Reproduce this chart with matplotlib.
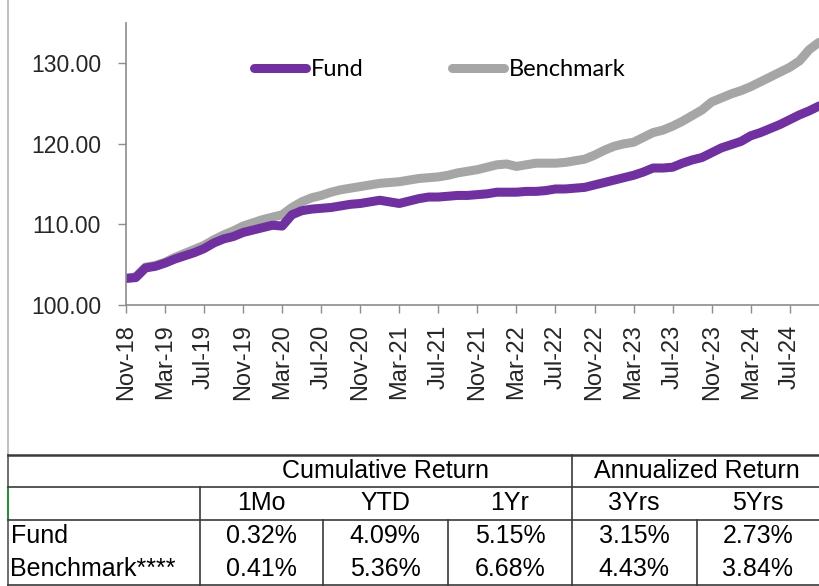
import numpy as np
import matplotlib.pyplot as plt
from matplotlib.lines import Line2D

# monthly index values, Nov-18 .. Oct-24
fund = [103.3, 103.4, 104.6, 104.8, 105.2, 105.7, 106.1, 106.5, 107.0, 107.7,
        108.2, 108.5, 109.0, 109.3, 109.6, 109.9, 109.8, 111.2, 111.7, 111.9,
        112.0, 112.1, 112.3, 112.5, 112.6, 112.8, 113.0, 112.8, 112.6, 112.9,
        113.2, 113.4, 113.4, 113.5, 113.6, 113.6, 113.7, 113.8, 114.0, 114.0,
        114.0, 114.1, 114.1, 114.2, 114.4, 114.4, 114.5, 114.6, 114.9, 115.2,
        115.5, 115.8, 116.1, 116.5, 117.0, 117.0, 117.1, 117.6, 118.0, 118.3,
        118.9, 119.5, 119.9, 120.3, 121.0, 121.4, 121.9, 122.4, 123.0, 123.6,
        124.1, 124.7]
bench = [103.3, 103.5, 104.7, 104.9, 105.3, 105.9, 106.4, 106.9, 107.4, 108.1,
         108.7, 109.2, 109.8, 110.2, 110.6, 110.9, 111.2, 112.1, 112.8, 113.3,
         113.6, 114.0, 114.3, 114.5, 114.7, 114.9, 115.1, 115.2, 115.3, 115.5,
         115.7, 115.8, 115.9, 116.1, 116.4, 116.6, 116.8, 117.1, 117.4, 117.5,
         117.2, 117.4, 117.6, 117.6, 117.6, 117.7, 117.9, 118.1, 118.6, 119.2,
         119.7, 120.0, 120.2, 120.8, 121.4, 121.7, 122.2, 122.8, 123.5, 124.2,
         125.2, 125.7, 126.2, 126.6, 127.1, 127.7, 128.3, 128.9, 129.5, 130.3,
         131.7, 132.6]
tick_labels = ['Nov-18', 'Mar-19', 'Jul-19', 'Nov-19', 'Mar-20', 'Jul-20',
               'Nov-20', 'Mar-21', 'Jul-21', 'Nov-21', 'Mar-22', 'Jul-22',
               'Nov-22', 'Mar-23', 'Jul-23', 'Nov-23', 'Mar-24', 'Jul-24']

periods = ['1Mo', 'YTD', '1Yr', '3Yrs', '5Yrs']
fund_ret = ['0.32%', '4.09%', '5.15%', '3.15%', '2.73%']
bench_ret = ['0.41%', '5.36%', '6.68%', '4.43%', '3.84%']

purple = '#7030A0'
grey = '#A6A6A6'
axis_col = '#8C8C8C'

fig = plt.figure(figsize=(8.2, 5.86), dpi=100)

# background layer in pixel coords for borders + table
bg = fig.add_axes([0, 0, 1, 1])
bg.set_xlim(0, 820)
bg.set_ylim(586, 0)
bg.axis('off')
bg.plot([8, 8], [0, 455], color='#B4B4B4', lw=1.2)
bg.plot([8, 8], [455, 586], color='#555555', lw=1.2)
bg.plot([8, 8], [488, 519], color='#2E8B3E', lw=1.5)
bg.plot([8, 820], [455, 455], color='#3A3A3A', lw=1.8)
for yy in [487, 520, 585]:
    bg.plot([8, 820], [yy, yy], color='#3A3A3A', lw=1.2)
bg.plot([200, 200], [487, 586], color='#3A3A3A', lw=1.2)
bg.plot([572, 572], [455, 586], color='#3A3A3A', lw=1.2)
for xx in [323, 448, 697]:
    bg.plot([xx, xx], [520, 586], color='#3A3A3A', lw=1.2)

tfont = dict(family='Liberation Sans', fontsize=18, color='black', va='center')
bg.text(386, 471, 'Cumulative Return', ha='center', **tfont)
bg.text(697, 471, 'Annualized Return', ha='center', **tfont)
centers = [261, 385, 510, 634, 758]
for cx, p, f, b in zip(centers, periods, fund_ret, bench_ret):
    bg.text(cx, 503, p, ha='center', **tfont)
    bg.text(cx, 536, f, ha='center', **tfont)
    bg.text(cx, 569, b, ha='center', **tfont)
bg.text(11, 536, 'Fund', ha='left', **tfont)
bg.text(10, 569, 'Benchmark****', ha='left', **tfont)

# line chart
ax = fig.add_axes([126 / 820, 1 - 305 / 586, 1 - 126 / 820, (305 - 23) / 586])
ax.set_facecolor('none')
x = np.arange(len(fund))
ax.plot(x, bench, color=grey, lw=6.5, solid_capstyle='round', solid_joinstyle='round')
ax.plot(x, fund, color=purple, lw=6.5, solid_capstyle='round', solid_joinstyle='round')
ax.set_xlim(0, 71.1)
ax.set_ylim(100, 135)
ax.set_yticks([100, 110, 120, 130])
ax.set_yticklabels([f'{v:.2f}' for v in [100, 110, 120, 130]],
                   family='Liberation Sans', fontsize=16.5)
ax.set_xticks(np.arange(0, 4 * len(tick_labels), 4))
ax.set_xticklabels(tick_labels, rotation=90, family='Liberation Sans', fontsize=17)
for s in ['top', 'right']:
    ax.spines[s].set_visible(False)
for s in ['left', 'bottom']:
    ax.spines[s].set_color(axis_col)
    ax.spines[s].set_linewidth(1.2)
ax.tick_params(axis='y', length=6, width=1, color=axis_col, pad=12, labelcolor='#262626')
ax.tick_params(axis='x', length=6, width=1, color=axis_col, pad=8, labelcolor='#262626')

handles = [Line2D([], [], color=purple, lw=6.5, solid_capstyle='round'),
           Line2D([], [], color=grey, lw=6.5, solid_capstyle='round')]
fig.legend(handles, ['Fund', 'Benchmark'], loc='center left',
           bbox_to_anchor=(254 / 820, 1 - 70 / 586), bbox_transform=fig.transFigure,
           ncol=2, frameon=False, borderpad=0, borderaxespad=0, handlelength=2.2,
           handletextpad=0.2, columnspacing=3.75, prop={'family': 'Lato', 'size': 17})

fig.savefig('out.png', dpi=100)
